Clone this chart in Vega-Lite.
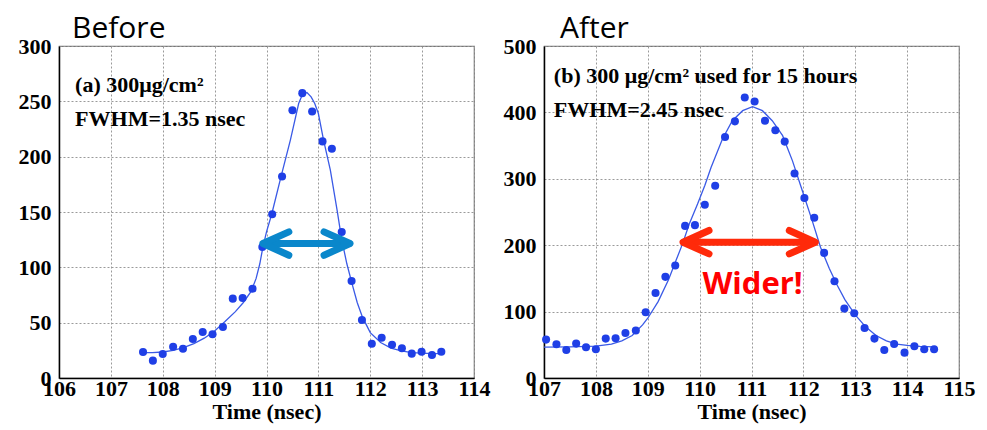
{
  "$schema": "https://vega.github.io/schema/vega-lite/v6.json",
  "padding": {"left": 17, "top": 13, "right": 5, "bottom": 5},
  "bounds": "flush",
  "spacing": 70,
  "background": "white",
  "datasets": {
    "pts_a": [
      {"x": 107.62, "y": 23.5}, {"x": 107.81, "y": 15.7}, {"x": 108.0, "y": 21.7}, {"x": 108.2, "y": 28.3},
      {"x": 108.39, "y": 26.5}, {"x": 108.58, "y": 35.2}, {"x": 108.77, "y": 41.6}, {"x": 108.96, "y": 39.5},
      {"x": 109.16, "y": 46.1}, {"x": 109.35, "y": 71.7}, {"x": 109.54, "y": 72.3}, {"x": 109.73, "y": 80.7},
      {"x": 109.92, "y": 118.4}, {"x": 110.11, "y": 147.9}, {"x": 110.3, "y": 182}, {"x": 110.5, "y": 242},
      {"x": 110.69, "y": 257.4}, {"x": 110.88, "y": 240.8}, {"x": 111.08, "y": 213.8}, {"x": 111.26, "y": 207.2},
      {"x": 111.45, "y": 131.9}, {"x": 111.64, "y": 87.7}, {"x": 111.84, "y": 52.4}, {"x": 112.03, "y": 31.0},
      {"x": 112.22, "y": 36.4}, {"x": 112.42, "y": 30.1}, {"x": 112.61, "y": 26.8}, {"x": 112.8, "y": 22.0},
      {"x": 112.99, "y": 23.8}, {"x": 113.19, "y": 20.8}, {"x": 113.37, "y": 23.8}
    ],
    "fit_a": [
      {"x": 107.62, "y": 23}, {"x": 107.8, "y": 23}, {"x": 108.0, "y": 23.5}, {"x": 108.2, "y": 25},
      {"x": 108.4, "y": 27.5}, {"x": 108.6, "y": 31}, {"x": 108.8, "y": 36}, {"x": 109.0, "y": 42.5},
      {"x": 109.2, "y": 51}, {"x": 109.4, "y": 60}, {"x": 109.55, "y": 68}, {"x": 109.7, "y": 78},
      {"x": 109.8, "y": 90}, {"x": 109.87, "y": 103}, {"x": 109.93, "y": 118}, {"x": 110.0, "y": 132},
      {"x": 110.1, "y": 148}, {"x": 110.28, "y": 182}, {"x": 110.46, "y": 215}, {"x": 110.62, "y": 248},
      {"x": 110.69, "y": 256}, {"x": 110.78, "y": 258}, {"x": 110.86, "y": 254}, {"x": 110.93, "y": 248},
      {"x": 111.0, "y": 239}, {"x": 111.1, "y": 215}, {"x": 111.23, "y": 188}, {"x": 111.36, "y": 152},
      {"x": 111.45, "y": 125}, {"x": 111.55, "y": 103}, {"x": 111.65, "y": 85}, {"x": 111.75, "y": 68},
      {"x": 111.85, "y": 55}, {"x": 112.0, "y": 41}, {"x": 112.2, "y": 32}, {"x": 112.4, "y": 27},
      {"x": 112.6, "y": 24.5}, {"x": 112.8, "y": 23}, {"x": 113.0, "y": 22.5}, {"x": 113.2, "y": 22},
      {"x": 113.37, "y": 22}
    ],
    "arrow_a": [{"x": 109.95, "xe": 111.59, "y": 121.5}],
    "heads_a": [{"x": 109.93, "y": 121.5, "dir": "left"}, {"x": 111.61, "y": 121.5, "dir": "right"}],
    "text_a": [
      {"x": 106.31, "y": 258.6, "label": "(a) 300μg/cm²"},
      {"x": 106.31, "y": 228, "label": "FWHM=1.35 nsec"}
    ],
    "pts_b": [
      {"x": 107.04, "y": 57.8}, {"x": 107.24, "y": 50.8}, {"x": 107.43, "y": 42.2}, {"x": 107.62, "y": 51.8},
      {"x": 107.81, "y": 46.2}, {"x": 108.0, "y": 43.2}, {"x": 108.19, "y": 59.3}, {"x": 108.38, "y": 59.8},
      {"x": 108.57, "y": 67.8}, {"x": 108.77, "y": 71.4}, {"x": 108.96, "y": 99.0}, {"x": 109.15, "y": 128.1},
      {"x": 109.34, "y": 152.3}, {"x": 109.53, "y": 169.3}, {"x": 109.72, "y": 229.1}, {"x": 109.91, "y": 230.2},
      {"x": 110.1, "y": 261}, {"x": 110.3, "y": 289.5}, {"x": 110.49, "y": 363}, {"x": 110.68, "y": 386.5},
      {"x": 110.87, "y": 422.5}, {"x": 111.06, "y": 416.5}, {"x": 111.26, "y": 387.5}, {"x": 111.46, "y": 373},
      {"x": 111.64, "y": 356}, {"x": 111.83, "y": 308}, {"x": 112.02, "y": 271}, {"x": 112.21, "y": 241.2},
      {"x": 112.4, "y": 188.4}, {"x": 112.6, "y": 145.7}, {"x": 112.79, "y": 104.5}, {"x": 112.98, "y": 97.5},
      {"x": 113.18, "y": 75.4}, {"x": 113.37, "y": 59.3}, {"x": 113.56, "y": 42.2}, {"x": 113.75, "y": 51.3},
      {"x": 113.95, "y": 38.2}, {"x": 114.14, "y": 47.7}, {"x": 114.33, "y": 43.2}, {"x": 114.52, "y": 43.2}
    ],
    "fit_b": [
      {"x": 107.0, "y": 46.5}, {"x": 107.5, "y": 47}, {"x": 108.0, "y": 48}, {"x": 108.3, "y": 51},
      {"x": 108.5, "y": 56}, {"x": 108.7, "y": 64}, {"x": 108.9, "y": 80}, {"x": 109.0, "y": 90},
      {"x": 109.2, "y": 115}, {"x": 109.4, "y": 148}, {"x": 109.55, "y": 178}, {"x": 109.67, "y": 202},
      {"x": 109.8, "y": 232}, {"x": 109.96, "y": 262}, {"x": 110.1, "y": 290}, {"x": 110.22, "y": 317},
      {"x": 110.44, "y": 360}, {"x": 110.63, "y": 387.5}, {"x": 110.83, "y": 402.6}, {"x": 111.02, "y": 408.6},
      {"x": 111.21, "y": 402.6}, {"x": 111.4, "y": 387.5}, {"x": 111.6, "y": 365}, {"x": 111.79, "y": 327},
      {"x": 111.98, "y": 282}, {"x": 112.17, "y": 237}, {"x": 112.33, "y": 197}, {"x": 112.5, "y": 165},
      {"x": 112.65, "y": 140}, {"x": 112.8, "y": 118}, {"x": 113.0, "y": 95}, {"x": 113.2, "y": 77},
      {"x": 113.4, "y": 64}, {"x": 113.6, "y": 56}, {"x": 113.8, "y": 51}, {"x": 114.0, "y": 49},
      {"x": 114.25, "y": 47.5}, {"x": 114.52, "y": 47}
    ],
    "arrow_b": [{"x": 109.7, "xe": 112.21, "y": 204.5}],
    "heads_b": [{"x": 109.68, "y": 204.5, "dir": "left"}, {"x": 112.23, "y": 204.5, "dir": "right"}],
    "text_b": [
      {"x": 107.19, "y": 445, "label": "(b) 300 μg/cm² used for 15 hours"},
      {"x": 107.19, "y": 392.5, "label": "FWHM=2.45 nsec"}
    ],
    "wider_b": [{"x": 111.02, "y": 127, "label": "Wider!"}]
  },
  "config": {
    "view": {"stroke": "#777", "strokeWidth": 1.2},
    "axis": {
      "labelFont": "Liberation Serif", "labelFontWeight": "bold", "labelFontSize": 22, "labelColor": "#000",
      "titleFont": "Liberation Serif", "titleFontWeight": "bold", "titleFontSize": 22, "titleColor": "#000",
      "gridColor": "#9a9a9a", "gridDash": [2, 2], "gridWidth": 1,
      "domainColor": "#000", "domainWidth": 1.5,
      "ticks": false, "tickSize": 0,
      "labelOverlap": false, "labelBound": false, "labelFlush": false
    },
    "axisX": {"labelPadding": 0, "titlePadding": 2},
    "axisY": {"labelPadding": 8}
  },
  "hconcat": [
    {
      "width": 415, "height": 332,
      "title": {"text": "Before", "anchor": "start", "frame": "group", "dx": 13, "offset": -33, "font": "Open Sans", "fontSize": 30, "fontWeight": "normal", "color": "#000", "baseline": "alphabetic"},
      "encoding": {
        "x": {"field": "x", "type": "quantitative", "scale": {"domain": [106, 114], "nice": false, "zero": false},
              "axis": {"values": [106, 107, 108, 109, 110, 111, 112, 113, 114], "format": "d", "title": "Time (nsec)"}},
        "y": {"field": "y", "type": "quantitative", "scale": {"domain": [0, 300], "nice": false},
              "axis": {"values": [0, 50, 100, 150, 200, 250, 300], "format": "d", "title": null}}
      },
      "layer": [
        {"data": {"name": "fit_a"}, "mark": {"type": "line", "color": "#3a5ae6", "strokeWidth": 1.3}},
        {"data": {"name": "pts_a"}, "mark": {"type": "point", "filled": true, "size": 65, "color": "#1f3fe6", "opacity": 1}},
        {"data": {"name": "arrow_a"}, "mark": {"type": "rule", "color": "#0a87cb", "strokeWidth": 7, "strokeCap": "round"},
         "encoding": {"x2": {"field": "xe"}}},
        {"data": {"name": "heads_a"}, "mark": {"type": "point", "filled": false, "color": "#0a87cb", "strokeWidth": 7, "strokeCap": "round", "strokeJoin": "round", "size": 2704, "opacity": 1},
         "encoding": {"shape": {"field": "dir", "type": "nominal", "scale": {"domain": ["left", "right"], "range": ["M1,-0.45L0,0L1,0.45", "M-1,-0.45L0,0L-1,0.45"]}, "legend": null}}},
        {"data": {"name": "text_a"}, "mark": {"type": "text", "align": "left", "baseline": "alphabetic", "font": "Liberation Serif", "fontWeight": "bold", "fontSize": 22, "color": "#000"},
         "encoding": {"text": {"field": "label"}}}
      ]
    },
    {
      "width": 415, "height": 332,
      "title": {"text": "After", "anchor": "start", "frame": "group", "dx": 16, "offset": -33, "font": "Open Sans", "fontSize": 30, "fontWeight": "normal", "color": "#000", "baseline": "alphabetic"},
      "encoding": {
        "x": {"field": "x", "type": "quantitative", "scale": {"domain": [107, 115], "nice": false, "zero": false},
              "axis": {"values": [107, 108, 109, 110, 111, 112, 113, 114, 115], "format": "d", "title": "Time (nsec)"}},
        "y": {"field": "y", "type": "quantitative", "scale": {"domain": [0, 500], "nice": false},
              "axis": {"values": [0, 100, 200, 300, 400, 500], "format": "d", "title": null}}
      },
      "layer": [
        {"data": {"name": "fit_b"}, "mark": {"type": "line", "color": "#3a5ae6", "strokeWidth": 1.3}},
        {"data": {"name": "pts_b"}, "mark": {"type": "point", "filled": true, "size": 65, "color": "#1f3fe6", "opacity": 1}},
        {"data": {"name": "arrow_b"}, "mark": {"type": "rule", "color": "#ff2a0a", "strokeWidth": 7, "strokeCap": "round"},
         "encoding": {"x2": {"field": "xe"}}},
        {"data": {"name": "heads_b"}, "mark": {"type": "point", "filled": false, "color": "#ff2a0a", "strokeWidth": 7, "strokeCap": "round", "strokeJoin": "round", "size": 2704, "opacity": 1},
         "encoding": {"shape": {"field": "dir", "type": "nominal", "scale": {"domain": ["left", "right"], "range": ["M1,-0.45L0,0L1,0.45", "M-1,-0.45L0,0L-1,0.45"]}, "legend": null}}},
        {"data": {"name": "text_b"}, "mark": {"type": "text", "align": "left", "baseline": "alphabetic", "font": "Liberation Serif", "fontWeight": "bold", "fontSize": 22, "color": "#000"},
         "encoding": {"text": {"field": "label"}}},
        {"data": {"name": "wider_b"}, "mark": {"type": "text", "align": "center", "baseline": "alphabetic", "font": "Open Sans", "fontWeight": "bold", "fontSize": 31, "color": "#ff0000"},
         "encoding": {"text": {"field": "label"}}}
      ]
    }
  ]
}
